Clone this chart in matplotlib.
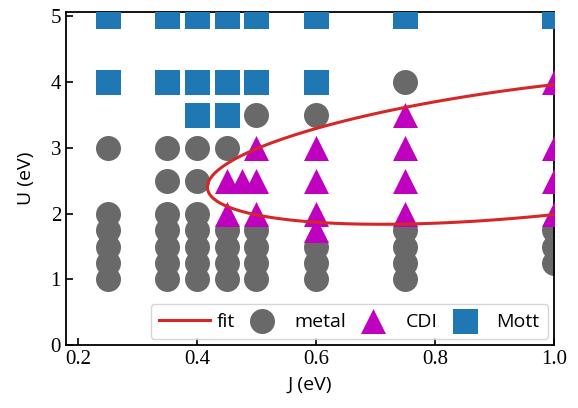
import numpy as np
import matplotlib
matplotlib.use("Agg")
import matplotlib.pyplot as plt

# phase points (J, U) in eV
metal_J = [0.25, 0.25, 0.25, 0.25, 0.25, 0.25,
           0.35, 0.35, 0.35, 0.35, 0.35, 0.35, 0.35,
           0.40, 0.40, 0.40, 0.40, 0.40, 0.40, 0.40,
           0.45, 0.45, 0.45, 0.45, 0.45,
           0.50, 0.50, 0.50, 0.50, 0.50,
           0.60, 0.60, 0.60, 0.60,
           0.75, 0.75, 0.75, 0.75, 0.75,
           1.00, 1.00, 1.00]
metal_U = [1.0, 1.25, 1.5, 1.75, 2.0, 3.0,
           1.0, 1.25, 1.5, 1.75, 2.0, 2.5, 3.0,
           1.0, 1.25, 1.5, 1.75, 2.0, 2.5, 3.0,
           1.0, 1.25, 1.5, 1.75, 3.0,
           1.0, 1.25, 1.5, 1.75, 3.5,
           1.0, 1.25, 1.5, 3.5,
           1.0, 1.25, 1.5, 1.75, 4.0,
           1.25, 1.5, 1.75]

cdi_J = [0.45, 0.45, 0.475, 0.50, 0.50, 0.50,
         0.60, 0.60, 0.60, 0.60,
         0.75, 0.75, 0.75, 0.75,
         1.00, 1.00, 1.00, 1.00]
cdi_U = [2.0, 2.5, 2.5, 2.0, 2.5, 3.0,
         1.75, 2.0, 2.5, 3.0,
         2.0, 2.5, 3.0, 3.5,
         2.0, 2.5, 3.0, 4.0]

mott_J = [0.25, 0.25, 0.35, 0.35, 0.40, 0.40, 0.40,
          0.45, 0.45, 0.45, 0.50, 0.50, 0.60, 0.60, 0.75, 1.00]
mott_U = [4.0, 5.0, 4.0, 5.0, 3.5, 4.0, 5.0,
          3.5, 4.0, 5.0, 4.0, 5.0, 4.0, 5.0, 5.0, 5.0]

# points on the phase boundary; a conic is fitted to them
bound_J = [0.418, 0.450, 0.505, 0.572, 0.606, 0.750, 0.997,
           0.427, 0.483, 0.606, 0.740, 0.996]
bound_U = [2.381, 2.709, 2.989, 3.218, 3.318, 3.633, 3.953,
           2.202, 1.974, 1.872, 1.863, 1.974]

# conic fit  a x^2 + b xy + c y^2 + d x + e y + f = 0
bx = np.array(bound_J)
by = np.array(bound_U)
M = np.column_stack([bx**2, bx*by, by**2, bx, by, np.ones_like(bx)])
coef = np.linalg.svd(M)[2][-1]

fig = plt.figure(figsize=(5.78, 4.08), dpi=100)
ax = fig.add_axes([0.114, 0.154, 0.845, 0.817])

gx, gy = np.meshgrid(np.linspace(0.18, 1.0, 900), np.linspace(0, 5.07, 900))
G = (coef[0]*gx**2 + coef[1]*gx*gy + coef[2]*gy**2
     + coef[3]*gx + coef[4]*gy + coef[5])
ax.contour(gx, gy, G, levels=[0], colors='#d62728', linewidths=2.2, zorder=5)
ax.plot([], [], color='#d62728', lw=2.2, label='fit')

ax.scatter(metal_J, metal_U, s=324, marker='o', color='dimgray', lw=0, label='metal', zorder=2)
ax.scatter(cdi_J, cdi_U, s=324, marker='^', color='m', lw=0, label='CDI', zorder=3)
ax.scatter(mott_J, mott_U, s=324, marker='s', color='#1f77b4', lw=0, label='Mott', zorder=4)

ax.set_xlim(0.18, 1.0)
ax.set_ylim(0, 5.07)
ax.set_xticks([0.2, 0.4, 0.6, 0.8, 1.0])
ax.set_yticks([0, 1, 2, 3, 4, 5])
ax.tick_params(direction='in', length=5, width=1.2)
for lab in ax.get_xticklabels() + ax.get_yticklabels():
    lab.set_fontfamily('Liberation Serif')
    lab.set_fontsize(15)
for sp in ax.spines.values():
    sp.set_linewidth(1.3)

ax.set_xlabel('J (eV)', fontfamily='Open Sans', fontsize=14, labelpad=5)
ax.set_ylabel('U (eV)', fontfamily='Open Sans', fontsize=14, labelpad=11)

ax.legend(loc='lower right', ncol=4, prop={'family': 'Open Sans', 'size': 14},
          handlelength=2.6, handletextpad=0.35, columnspacing=0.1,
          borderaxespad=0.3, borderpad=0.45, scatterpoints=1)

fig.savefig('out.png', dpi=100)
